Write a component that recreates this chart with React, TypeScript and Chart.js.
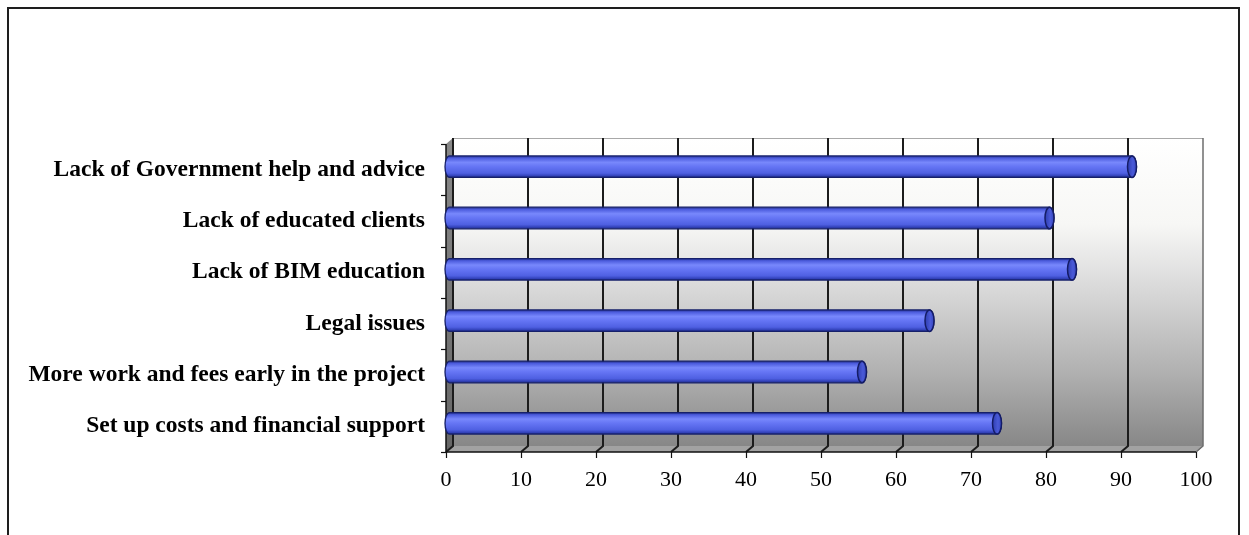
import React, { useEffect, useRef } from "react";
import { Chart, registerables } from "chart.js";

Chart.register(...registerables);

// Barriers to BIM adoption (percentage of respondents)
const categories = [
  "Lack of Government help and advice",
  "Lack of educated clients",
  "Lack of BIM education",
  "Legal issues",
  "More work and fees early in the project",
  "Set up costs and financial support",
];
const responses = [91, 80, 83, 64, 55, 73];
const xMin = 0;
const xMax = 100;
const xStep = 10;

// depth of the pseudo-3D box (back wall is up and to the right)
const DX = 7;
const DY = -6;

const W = 1249;
const H = 535;

const boxPlugin = {
  id: "box3d",
  beforeDraw(chart: any) {
    const ctx = chart.ctx as CanvasRenderingContext2D;
    ctx.save();
    ctx.fillStyle = "#ffffff";
    ctx.fillRect(0, 0, W, H);
    // outer frame
    ctx.strokeStyle = "#1e1e1e";
    ctx.lineWidth = 2;
    ctx.beginPath();
    ctx.moveTo(8, H + 2);
    ctx.lineTo(8, 8);
    ctx.lineTo(1239, 8);
    ctx.lineTo(1239, H + 2);
    ctx.stroke();
    ctx.restore();
  },
  beforeDatasetsDraw(chart: any) {
    const ctx = chart.ctx as CanvasRenderingContext2D;
    const { left, right, top, bottom } = chart.chartArea;
    const xs = chart.scales.x;
    const ys = chart.scales.y;
    ctx.save();

    // back wall
    const g = ctx.createLinearGradient(0, top + DY, 0, bottom + DY);
    g.addColorStop(0, "#ffffff");
    g.addColorStop(0.28, "#f7f7f5");
    g.addColorStop(0.42, "#e3e3e3");
    g.addColorStop(0.57, "#cdcdcd");
    g.addColorStop(0.77, "#afafaf");
    g.addColorStop(1, "#878787");
    ctx.fillStyle = g;
    ctx.fillRect(left + DX, top + DY, right - left, bottom - top);

    // top edge of the back wall
    ctx.strokeStyle = "#a8a8a8";
    ctx.lineWidth = 1;
    ctx.beginPath();
    ctx.moveTo(left + DX, top + DY + 0.5);
    ctx.lineTo(right + DX, top + DY + 0.5);
    ctx.stroke();

    // left side wall
    const lg = ctx.createLinearGradient(0, top, 0, bottom);
    lg.addColorStop(0, "#888888");
    lg.addColorStop(1, "#666666");
    ctx.fillStyle = lg;
    ctx.beginPath();
    ctx.moveTo(left, top);
    ctx.lineTo(left + DX, top + DY);
    ctx.lineTo(left + DX, bottom + DY);
    ctx.lineTo(left, bottom);
    ctx.closePath();
    ctx.fill();

    // floor
    ctx.fillStyle = "#a2a2a2";
    ctx.beginPath();
    ctx.moveTo(left, bottom);
    ctx.lineTo(left + DX, bottom + DY);
    ctx.lineTo(right + DX, bottom + DY);
    ctx.lineTo(right, bottom);
    ctx.closePath();
    ctx.fill();
    ctx.strokeStyle = "#8a8a8a";
    ctx.lineWidth = 1;
    ctx.beginPath();
    ctx.moveTo(right, bottom);
    ctx.lineTo(right + DX, bottom + DY);
    ctx.stroke();

    // grid lines on the back wall, folding across the floor
    for (let v = xMin; v <= xMax; v += xStep) {
      const px = xs.getPixelForValue(v);
      const last = v === xMax;
      ctx.strokeStyle = last ? "#6e6e6e" : "#1c1c1c";
      ctx.lineWidth = last ? 1.5 : 2;
      ctx.beginPath();
      ctx.moveTo(px + DX, top + DY);
      ctx.lineTo(px + DX, bottom + DY);
      ctx.lineTo(px, bottom);
      ctx.stroke();
    }

    // axes
    ctx.strokeStyle = "#111111";
    ctx.lineWidth = 1.5;
    ctx.beginPath();
    ctx.moveTo(left, top);
    ctx.lineTo(left, bottom);
    ctx.lineTo(right, bottom);
    ctx.stroke();

    // x tick marks
    ctx.lineWidth = 1.2;
    for (let v = xMin; v <= xMax; v += xStep) {
      const px = Math.round(xs.getPixelForValue(v)) + 0.5;
      ctx.beginPath();
      ctx.moveTo(px, bottom);
      ctx.lineTo(px, bottom + 6);
      ctx.stroke();
    }
    // y tick marks at category boundaries
    const n = categories.length;
    for (let i = 0; i <= n; i++) {
      const py =
        i === 0
          ? top
          : i === n
          ? bottom
          : (ys.getPixelForValue(i - 1) + ys.getPixelForValue(i)) / 2;
      ctx.beginPath();
      ctx.moveTo(left - 5, Math.round(py) + 0.5);
      ctx.lineTo(left, Math.round(py) + 0.5);
      ctx.stroke();
    }
    ctx.restore();
  },
  afterDatasetsDraw(chart: any) {
    const ctx = chart.ctx as CanvasRenderingContext2D;
    const meta = chart.getDatasetMeta(0);
    ctx.save();
    meta.data.forEach((el: any) => {
      const cy = el.y + DY / 2;
      const x0 = el.base + DX / 2;
      const x1 = el.x + DX / 2;
      const r = el.height / 2;
      const rx = 4.5;

      // cylinder body
      const bg = ctx.createLinearGradient(0, cy - r, 0, cy + r);
      bg.addColorStop(0, "#1f2a86");
      bg.addColorStop(0.1, "#4b5bdc");
      bg.addColorStop(0.3, "#7888fc");
      bg.addColorStop(0.5, "#6575f4");
      bg.addColorStop(0.8, "#4f60e2");
      bg.addColorStop(0.93, "#3141b8");
      bg.addColorStop(1, "#1a2478");
      ctx.fillStyle = bg;
      ctx.beginPath();
      ctx.moveTo(x0, cy - r);
      ctx.lineTo(x1, cy - r);
      ctx.ellipse(x1, cy, rx, r, 0, -Math.PI / 2, Math.PI / 2);
      ctx.lineTo(x0, cy + r);
      ctx.ellipse(x0, cy, rx, r, 0, Math.PI / 2, (3 * Math.PI) / 2);
      ctx.closePath();
      ctx.fill();
      ctx.strokeStyle = "#16206a";
      ctx.lineWidth = 1.3;
      ctx.stroke();

      // end cap
      const cg = ctx.createLinearGradient(x1 - rx, 0, x1 + rx, 0);
      cg.addColorStop(0, "#2e3db0");
      cg.addColorStop(0.6, "#4a5ad8");
      cg.addColorStop(1, "#3646c0");
      ctx.fillStyle = cg;
      ctx.beginPath();
      ctx.ellipse(x1, cy, rx, r, 0, 0, Math.PI * 2);
      ctx.fill();
      ctx.strokeStyle = "#141c66";
      ctx.lineWidth = 1.5;
      ctx.stroke();
    });
    ctx.restore();
  },
};

export default function App() {
  const ref = useRef<HTMLCanvasElement | null>(null);

  useEffect(() => {
    if (!ref.current) return;
    const chart = new Chart(ref.current, {
      type: "bar",
      data: {
        labels: categories,
        datasets: [
          {
            data: responses,
            backgroundColor: "rgba(0,0,0,0)",
            borderWidth: 0,
            barPercentage: 0.42,
            categoryPercentage: 1,
          },
        ],
      },
      options: {
        indexAxis: "y",
        responsive: false,
        animation: false,
        devicePixelRatio: 1,
        layout: { padding: { left: 0, top: 144, right: 53, bottom: 23 } },
        plugins: { legend: { display: false }, tooltip: { enabled: false } },
        scales: {
          x: {
            min: xMin,
            max: xMax,
            grid: { display: false, drawTicks: false },
            border: { display: false },
            afterFit: (s: any) => {
              s.height = 60;
            },
            ticks: {
              stepSize: xStep,
              padding: 15,
              color: "#000000",
              font: { family: "'Liberation Serif', 'Times New Roman', serif", size: 22 },
            },
          },
          y: {
            grid: { display: false, drawTicks: false },
            border: { display: false },
            afterFit: (s: any) => {
              s.width = 446;
            },
            ticks: {
              padding: 21,
              color: "#000000",
              font: {
                family: "'Liberation Serif', 'Times New Roman', serif",
                size: 23.5,
                weight: "bold",
              },
            },
          },
        },
      },
      plugins: [boxPlugin],
    });
    return () => chart.destroy();
  }, []);

  return (
    <div style={{ position: "fixed", left: 0, top: 0, width: W, height: H }}>
      <canvas ref={ref} width={W} height={H} style={{ display: "block" }} />
    </div>
  );
}
